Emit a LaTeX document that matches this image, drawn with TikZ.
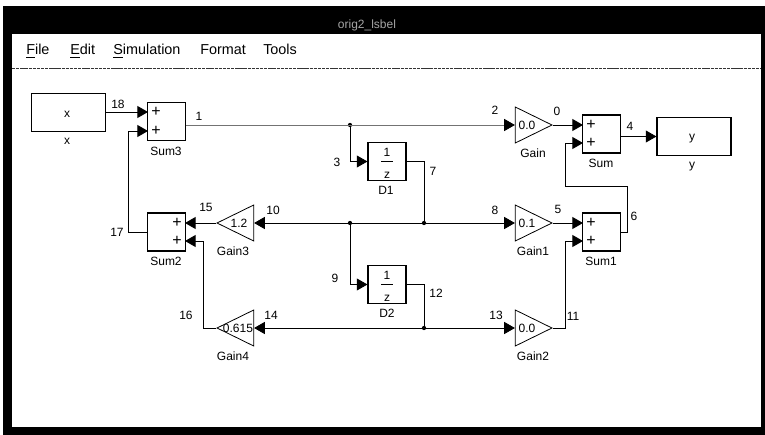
\documentclass[tikz,border=0pt]{standalone}
\usepackage{fontspec}
\setmainfont{Liberation Sans}
\usetikzlibrary{positioning,arrows.meta,shapes.geometric}

\tikzset{
  sigbox/.style={draw, rectangle, line width=0.8pt, inner sep=0pt},
  iobox/.style={sigbox, minimum width=55.5pt, minimum height=28pt},
  sumbox/.style={sigbox, minimum width=28pt, minimum height=28.5pt},
  delaybox/.style={sigbox, minimum width=28.5pt, minimum height=28pt},
  gainbox/.style={draw, isosceles triangle, isosceles triangle stretches, line width=0.6pt,
    inner sep=0pt, minimum width=27pt, minimum height=27.5pt},
  lbl/.style={inner sep=0pt, font=\fontsize{9}{9}\selectfont},
  plus/.style={inner sep=0pt, font=\fontsize{12}{12}\selectfont},
  menu/.style={inner sep=0pt, anchor=base west, font=\fontsize{10.8}{11}\selectfont},
  junc/.style={circle, fill, inner sep=0pt, minimum size=3.2pt},
  sig/.style={line width=0.65pt}
}

\begin{document}
\begin{tikzpicture}[x=0.75pt,y=-0.75pt,>={Triangle[length=8pt,width=9pt,color=black]}]
  \useasboundingbox (0,0) rectangle (765,435);
  % window
  \fill[black] (3,6) rectangle (765,435);
  \fill[white] (12,34) rectangle (761,427);
  \draw[black!80,dash pattern=on 2.5pt off 0.6pt,line width=0.6pt] (12,68) -- (761,68);
  \node[lbl, text=black!35] (title) at (367,25) {orig2\_lsbel};
  \node[menu] (mfile) at (26,55) {\underline{F}ile};
  \node[menu] (medit) at (70,55) {\underline{E}dit};
  \node[menu] (msim) at (113,55) {\underline{S}imulation};
  \node[menu] (mformat) at (200,55) {Format};
  \node[menu] (mtools) at (263,55) {Tools};

  % blocks
  \node[iobox] (x) at (68.5,112.5) {};
  \node[iobox] (y) at (694,136.5) {};
  \node[sumbox] (sum3) at (166.5,121.5) {};
  \node[sumbox] (sum2) at (166.5,232) {};
  \node[sumbox] (sum1) at (601.5,232) {};
  \node[sumbox] (sum) at (601.5,134) {};
  \node[delaybox] (d1) at (387,161.5) {};
  \node[delaybox] (d2) at (387,284.5) {};
  \node[gainbox, anchor=apex] (gain) at (553,125) {};
  \node[gainbox, anchor=apex] (gain1) at (553,223) {};
  \node[gainbox, anchor=apex] (gain2) at (553,328) {};
  \node[gainbox, anchor=apex, shape border rotate=180] (gain3) at (216,223) {};
  \node[gainbox, anchor=apex, shape border rotate=180] (gain4) at (216,328) {};

  % ports of the sums
  \coordinate (sum3a) at (148,112);
  \coordinate (sum3b) at (148,131);
  \coordinate (suma) at (583,125);
  \coordinate (sumb) at (583,143);
  \coordinate (sum1a) at (583,223);
  \coordinate (sum1b) at (583,241);
  \coordinate (sum2a) at (185,223);
  \coordinate (sum2b) at (185,241);

  % branch points
  \node[junc] (j1) at (350,125) {};
  \node[junc] (j2) at (350,223) {};
  \node[junc] (j3) at (424,223) {};
  \node[junc] (j4) at (424,328) {};

  % text in and under the blocks
  \node[lbl] (xin) at (67,114) {x};
  \node[lbl] (xlab) at (67,141) {x};
  \node[lbl] (yin) at (692,139) {y};
  \node[lbl] (ylab) at (692,167) {y};
  \foreach \nm/\px/\py in {p1/156/112, p2/156/131, p3/177/223, p4/177/241, p5/591/125, p6/591/143, p7/591/223, p8/591/241}
    \node[plus] (\nm) at (\px,\py) {+};
  \foreach \nm/\px/\py/\txt in {lsum3/166/151/Sum3, lsum2/166/261/Sum2, lsum1/601/261/Sum1, lsum/601/163/Sum,
      lgain/533/153/Gain, lgain1/533/251/Gain1, lgain2/533/356/Gain2, lgain3/233/251/Gain3, lgain4/233/356/Gain4,
      ld1/386/190/D1, ld2/387/313/D2,
      vgain/527/125/0.0, vgain1/527/223/0.1, vgain2/527/328/0.0, vgain3/239/223/1.2, vgain4/238/328/0.615}
    \node[lbl] (\nm) at (\px,\py) {\txt};
  \foreach \nm/\py in {d1/161.5, d2/284.5} {
    \node[lbl] (\nm one) at (387,\py-9.5) {1};
    \node[lbl] (\nm z) at (387,\py+14) {z};
    \draw[line width=0.6pt] ([xshift=-4.5pt]\nm.center) -- ([xshift=4.5pt]\nm.center);
  }

  % signal numbers
  \foreach \nm/\px/\py/\txt in {s0/557/111/0, s1/199/116/1, s2/495/110/2, s3/337/162/3, s4/630/126/4, s5/558/209/5,
      s6/634/216/6, s7/433/171/7, s8/495/210/8, s9/335/278/9, s10/273/210/10, s11/573/316/11, s12/436/293/12,
      s13/496/315/13, s14/271/315/14, s15/206/207/15, s16/186/315/16, s17/117/232/17, s18/118/104/18}
    \node[lbl] (\nm) at (\px,\py) {\txt};

  % signals
  \draw[->, sig] (x.east |- sum3a) -- (sum3a);
  \draw[->, black!55, sig] (sum3.east |- j1) -- (gain.west |- j1);
  \draw[->, sig] (j1) |- (d1.west);
  \draw[->, sig] (gain.apex) -- (suma);
  \draw[->, sig] (sum.east |- y.west) -- (y.west);
  \draw[sig] (d1.east) -| (j3);
  \draw[->, sig] (j3) -- (gain1.west |- j3);
  \draw[->, sig] (j3) -- (gain3.east |- j3);
  \draw[->, sig] (j2) |- (d2.west);
  \draw[sig] (d2.east) -| (j4);
  \draw[->, sig] (j4) -- (gain2.west |- j4);
  \draw[->, sig] (j4) -- (gain4.east |- j4);
  \draw[->, sig] (gain1.apex) -- (sum1a);
  \draw[->, sig] (gain2.apex) -- ++(12,0) |- (sum1b);
  \draw[->, sig] (sum1.east) -- ++(7,0) |- (565,186) |- (sumb);
  \draw[->, sig] (gain3.apex) -- (sum2a);
  \draw[->, sig] (gain4.apex) -- ++(-13,0) |- (sum2b);
  \draw[->, sig] (sum2.west) -- ++(-19,0) |- (sum3b);
\end{tikzpicture}
\end{document}
